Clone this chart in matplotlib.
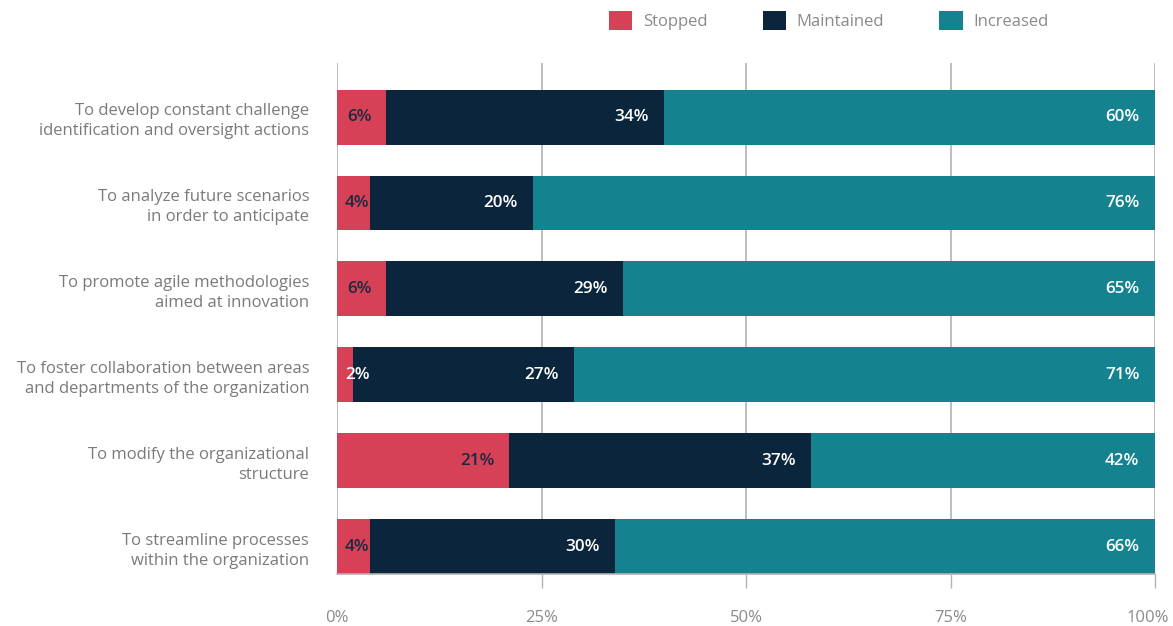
import matplotlib
matplotlib.use("Agg")
import matplotlib.pyplot as plt
from matplotlib.patches import Patch
import matplotlib.transforms as mtransforms

plt.rcParams['font.family'] = ['Open Sans', 'DejaVu Sans']

categories = [
    "To develop constant challenge\nidentification and oversight actions",
    "To analyze future scenarios\nin order to anticipate",
    "To promote agile methodologies\naimed at innovation",
    "To foster collaboration between areas\nand departments of the organization",
    "To modify the organizational\nstructure",
    "To streamline processes\nwithin the organization",
]
series_names = ["Stopped", "Maintained", "Increased"]
stopped = [6, 4, 6, 2, 21, 4]
maintained = [34, 20, 29, 27, 37, 30]
increased = [60, 76, 65, 71, 42, 66]
x_ticks = [0, 25, 50, 75, 100]
x_tick_labels = ["0%", "25%", "50%", "75%", "100%"]

colors = ["#D64157", "#0B263C", "#14838F"]
label_colors = ["#1B2A3F", "#FFFFFF", "#FFFFFF"]
grid_color = "#B3B3B3"
text_gray = "#8A8A8A"

fig = plt.figure(figsize=(11.73, 6.26), dpi=100)
ax = fig.add_axes([337/1173, 1 - 574/626, (1155-337)/1173, (574-63)/626])

ypos = list(range(len(categories)))
bar_h = 0.64
left = [0]*len(categories)
for vals, col, lcol in zip([stopped, maintained, increased], colors, label_colors):
    ax.barh(ypos, vals, left=left, height=bar_h, color=col, zorder=2)
    for i, v in enumerate(vals):
        end = left[i] + v
        xr = end - 1.9
        c = lcol
        if col == colors[0]:
            xr = max(end - 1.7, 4.0)
            if v < 3:
                c = "#FFFFFF"
        ax.text(xr, i, f"{v}%", ha="right", va="center", color=c,
                fontsize=12.3, fontweight="semibold", zorder=3)
    left = [l + v for l, v in zip(left, vals)]

ax.set_xlim(0, 100)
ax.set_ylim(5.32, -0.63)
ax.set_yticks(ypos)
ax.set_yticklabels(categories, color="#7A7A7A", fontsize=12)
for t in ax.get_yticklabels():
    t.set_linespacing(1.35)
ax.tick_params(axis="y", length=0, pad=20)

ax.set_xticks(x_ticks)
ax.set_xticklabels(x_tick_labels, color=text_gray, fontsize=12)
ax.tick_params(axis="x", length=10, width=1, color=grid_color, pad=16)
ax.xaxis.get_major_ticks()[0].tick1line.set_visible(False)
last = ax.get_xticklabels()[-1]
last.set_horizontalalignment("right")
last.set_transform(last.get_transform() + mtransforms.ScaledTranslation(14/100, 0, fig.dpi_scale_trans))

for xv in x_ticks:
    ax.axvline(xv, color=grid_color, lw=1.2, zorder=1)
for s in ["top", "right", "left"]:
    ax.spines[s].set_visible(False)
ax.spines["bottom"].set_color(grid_color)
ax.spines["bottom"].set_linewidth(1.2)

handles = [Patch(facecolor=c, edgecolor="none", label=n) for c, n in zip(colors, series_names)]
leg = fig.legend(handles=handles, loc="upper left", bbox_to_anchor=(609/1173, 1 - 11/626),
                 ncol=3, frameon=False, fontsize=12, handlelength=1.4, handleheight=1.4,
                 handletextpad=0.65, columnspacing=3.3, borderpad=0, borderaxespad=0)
for t in leg.get_texts():
    t.set_color(text_gray)

fig.savefig("out.png", dpi=100)
